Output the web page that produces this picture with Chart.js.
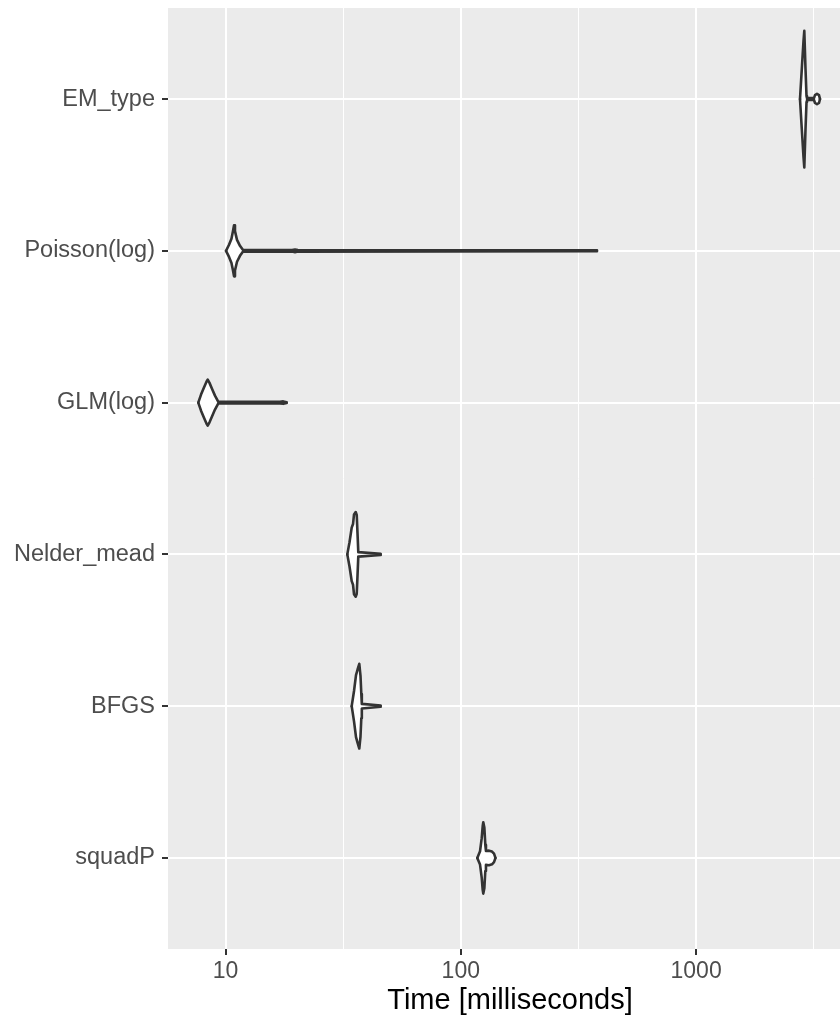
<!DOCTYPE html>
<html>
<head>
<meta charset="utf-8">
<script src="https://cdn.jsdelivr.net/npm/chart.js@4.4.0/dist/chart.umd.min.js"></script>
<style>
  html, body { margin: 0; padding: 0; background: #fff; overflow: hidden; }
  #wrap { width: 852px; height: 1021px; }
</style>
</head>
<body>
<div id="wrap"><canvas id="chart" width="852" height="1021"></canvas></div>
<script>
/* microbenchmark violin plot — time per method, log axis */

// categories, top to bottom
const categories = ["EM_type", "Poisson(log)", "GLM(log)", "Nelder_mead", "BFGS", "squadP"];

// violin outlines: time (ms) and half-width (category units)
const emTime       = [2764, 2819, 2860, 2883, 2917, 2946, 2960, 3170, 3201, 3264, 3329, 3362];
const emWidth      = [0, 0.22, 0.38, 0.45, 0.2, 0.02, 0.006, 0.006, 0.026, 0.034, 0.026, 0];
const poissonTime  = [10.05, 10.35, 10.60, 10.76, 10.87, 10.97, 11.19, 11.52, 11.87, 19.2, 19.74, 20.3, 379.2];
const poissonWidth = [0, 0.04, 0.08, 0.13, 0.168, 0.13, 0.072, 0.033, 0.005, 0.005, 0.009, 0.005, 0.003];
const glmTime      = [7.66, 7.87, 8.10, 8.30, 8.40, 8.55, 8.76, 9.02, 9.32, 17.04, 17.6, 18.2];
const glmWidth     = [0, 0.053, 0.1, 0.138, 0.152, 0.13, 0.092, 0.046, 0.005, 0.005, 0.008, 0.003];
const nelderTime   = [32.93, 33.65, 34.38, 34.83, 35.17, 35.75, 36.11, 36.39, 36.67, 45.67];
const nelderWidth  = [0, 0.08, 0.176, 0.2, 0.263, 0.279, 0.26, 0.14, 0.015, 0.004];
const bfgsTime     = [34.38, 35.17, 35.86, 36.39, 37.03, 37.47, 37.77, 37.96, 45.67];
const bfgsWidth    = [0, 0.1, 0.204, 0.24, 0.279, 0.2, 0.08, 0.015, 0.004];
const squadTime    = [117.5, 120.7, 122.7, 123.9, 124.6, 125.9, 127.1, 127.9, 131.8, 135.7, 138.4, 140.4];
const squadWidth   = [0, 0.044, 0.13, 0.21, 0.235, 0.2, 0.086, 0.046, 0.048, 0.042, 0.028, 0];

// x axis breaks
const xMajor = [10, 100, 1000];
const xMinor = [31.62, 316.2, 3162];
const xTickLabels = ["10", "100", "1000"];

const violins = [
  [emTime, emWidth], [poissonTime, poissonWidth], [glmTime, glmWidth],
  [nelderTime, nelderWidth], [bfgsTime, bfgsWidth], [squadTime, squadWidth]
];

const FONT = "'Liberation Sans', Arial, Helvetica, sans-serif";
const INK = "#333333";

function isMajor(v) { return xMajor.some(m => Math.abs(m - v) < 1e-6); }

/* ── datasets: each violin = upper + lower half, filled to its centre line ── */
const datasets = [];
violins.forEach(([t, w], i) => {
  [-1, 1].forEach(side => {
    datasets.push({
      data: t.map((x, k) => ({ x: x, y: i + side * w[k] })),
      borderColor: INK,
      borderWidth: 2.6,
      borderJoinStyle: "round",
      borderCapStyle: "round",
      backgroundColor: "#ffffff",
      fill: { target: { value: i } },
      pointRadius: 0,
      tension: 0
    });
  });
});

const panelBg = {
  id: "panelBg",
  beforeDraw(chart) {
    const { ctx, chartArea: a } = chart;
    ctx.save();
    ctx.fillStyle = "#EBEBEB";
    ctx.fillRect(a.left, a.top, a.right - a.left, a.bottom - a.top);
    ctx.restore();
  }
};

function noPad(s) { s.paddingTop = 0; s.paddingBottom = 0; s.paddingLeft = 0; s.paddingRight = 0; }

new Chart(document.getElementById("chart"), {
  type: "line",
  data: { datasets },
  plugins: [panelBg],
  options: {
    responsive: false,
    animation: false,
    devicePixelRatio: 1,
    layout: { padding: { top: 8, left: 0, right: 0, bottom: 0 } },
    plugins: {
      legend: { display: false },
      tooltip: { enabled: false },
      filler: { drawTime: "beforeDatasetsDraw" }
    },
    scales: {
      x: {
        type: "logarithmic",
        min: 5.696, max: 4598, bounds: "data",
        afterBuildTicks: s => {
          s.ticks = xMajor.concat(xMinor).sort((a, b) => a - b).map(v => ({ value: v }));
        },
        afterFit: s => { s.height = 72; noPad(s); },
        ticks: {
          autoSkip: false, maxRotation: 0, padding: 3,
          color: "#4D4D4D", font: { size: 23, family: FONT },
          callback: v => isMajor(v) ? xTickLabels[xMajor.findIndex(m => Math.abs(m - v) < 1e-6)] : ""
        },
        grid: {
          color: "#ffffff",
          lineWidth: c => (c.tick && isMajor(c.tick.value)) ? 2 : 1,
          tickLength: 6,
          tickColor: c => (c.tick && isMajor(c.tick.value)) ? INK : "rgba(0,0,0,0)",
          tickWidth: 2
        },
        border: { display: false },
        title: {
          display: true, text: "Time [milliseconds]", color: "#000000",
          font: { size: 29, family: FONT }, padding: { top: 0, bottom: 3 }
        }
      },
      y: {
        type: "linear", reverse: true,
        min: -0.6, max: 5.6, bounds: "data",
        afterBuildTicks: s => { s.ticks = categories.map((_, i) => ({ value: i })); },
        afterFit: s => { s.width = 168; noPad(s); },
        ticks: {
          autoSkip: false, padding: 7,
          color: "#4D4D4D", font: { size: 23.5, family: FONT },
          callback: v => categories[v]
        },
        grid: { color: "#ffffff", lineWidth: 2, tickLength: 6, tickColor: INK, tickWidth: 2 },
        border: { display: false }
      }
    }
  }
});
</script>
</body>
</html>
